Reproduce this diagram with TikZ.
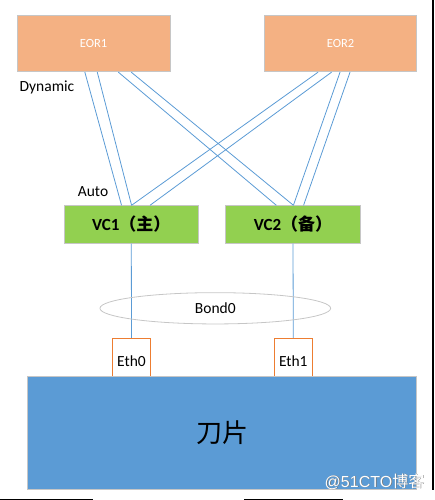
\documentclass[tikz,border=0pt]{standalone}
\usepackage{fontspec}
\setmainfont{Carlito}
\newfontfamily\cjk{Noto Sans CJK SC}
\newfontfamily\wmfont{Liberation Sans}
\usetikzlibrary{calc,shapes.geometric}
\definecolor{eorfill}{HTML}{F4B183}
\definecolor{vcfill}{HTML}{92D050}
\definecolor{bladefill}{HTML}{5B9BD5}
\definecolor{linkblue}{HTML}{5B9BD5}
\definecolor{portline}{HTML}{ED7D31}
\definecolor{boxline}{HTML}{C6C6C6}
\def\link(#1:#2)(#3:#4){\draw[link] ($(#1.south west)!#2!(#1.south east)$) -- ($(#3.north west)!#4!(#3.north east)$);}

\begin{document}
\begin{tikzpicture}[x=1pt,y=-1pt,
	eor/.style={draw=boxline, line width=0.8pt, fill=eorfill, text=white, minimum width=152.7pt, minimum height=56.7pt, inner sep=0pt, font=\fontsize{12.5}{14}\selectfont},
	vc/.style={draw=boxline, line width=0.8pt, fill=vcfill, minimum width=134.7pt, minimum height=37.6pt, inner sep=0pt, font=\fontsize{17}{19}\selectfont\bfseries},
	port/.style={draw=portline, line width=0.8pt, fill=white, minimum width=38.4pt, minimum height=37.7pt, inner sep=0pt, text height=23pt, text depth=4pt, font=\fontsize{15.5}{18}\selectfont},
	blade/.style={draw=boxline, line width=0.8pt, fill=bladefill, minimum width=389.4pt, minimum height=113.3pt, inner sep=0pt, font=\cjk\fontsize{26}{30}\selectfont},
	bond/.style={ellipse, draw=boxline, line width=0.8pt, minimum width=230.7pt, minimum height=31.3pt, inner sep=0pt, font=\fontsize{15.5}{18}\selectfont},
	lbl/.style={inner sep=0pt, font=\fontsize{15.5}{18}\selectfont},
	link/.style={draw=linkblue, line width=0.8pt}]
		%%%%% START %%%%%
		\useasboundingbox (0,0) rectangle (434,500);
		
		\node[eor] (eor1) at (93.6,43.4) {EOR1};
		\node[eor] (eor2) at (340.5,43.4) {EOR2};
		
		\node[lbl] (dyn) at (47,87) {Dynamic};
		\node[lbl] (auto) at (93,192) {Auto};
		
		\node[vc] (vc1) at (131.3,224.5) {VC1{\cjk\bfseries（主）}};
		\node[vc] (vc2) at (293,224.5) {VC2{\cjk\bfseries（备）}};
		
		\link(eor1:0.443)(vc1:0.428);
		\link(eor1:0.524)(vc1:0.502);
		\link(eor1:0.661)(vc2:0.377);
		\link(eor1:0.745)(vc2:0.503);
		\link(eor2:0.354)(vc1:0.502);
		\link(eor2:0.442)(vc1:0.638);
		\link(eor2:0.497)(vc2:0.503);
		\link(eor2:0.562)(vc2:0.578);
		
		\node[port] (eth0) at (131.5,357.2) {Eth0};
		\node[port] (eth1) at (293.3,357.2) {Eth1};
		
		\draw[link] (vc1.south) -- (eth0.north);
		\draw[link] (vc2.south) -- (eth1.north);
		
		\node[bond] (bond) at (215.3,308.3) {Bond0};
		
		\node[blade] (blade) at (222,432.7) {刀片};
		
		\node[text=black!55, font=\wmfont\fontsize{16}{18}\selectfont] at (375.2,482.3) {@51CTO{\cjk 博客}};
		\node[text=white, font=\wmfont\fontsize{16}{18}\selectfont] (mark) at (374.5,481.7) {@51CTO{\cjk 博客}};
		
		\draw[line width=1.5pt] (433.2,0) -- (433.2,490);
		\draw[line width=1pt] (0,499.3) -- (92.7,499.3);
		\draw[line width=1pt] (244.3,499.3) -- (343,499.3);
		%%%%% END %%%%%
\end{tikzpicture}
\end{document}
